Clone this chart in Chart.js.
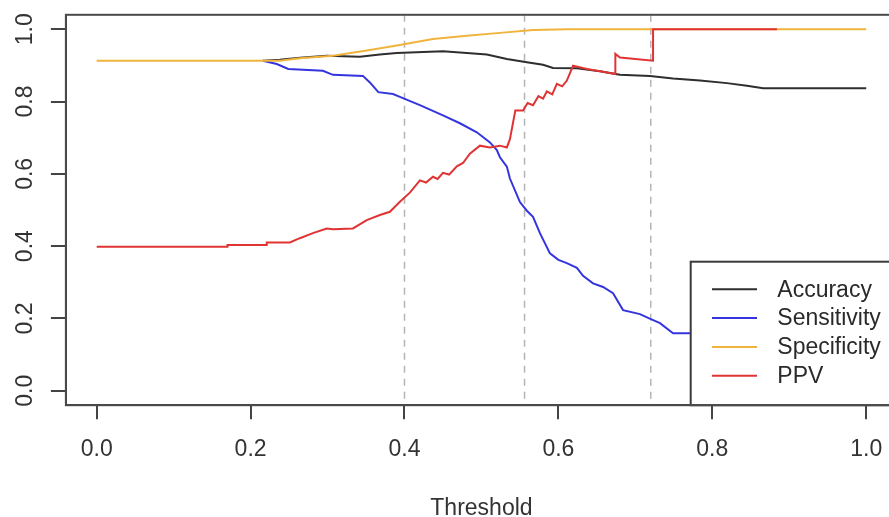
<!DOCTYPE html>
<html><head><meta charset="utf-8">
<script src="https://cdn.jsdelivr.net/npm/chart.js@4.4.1/dist/chart.umd.min.js"></script>
<style>
html,body{margin:0;padding:0;background:#fff;overflow:hidden;}
#wrap{width:889px;height:517px;overflow:hidden;position:relative;background:#fff;}
canvas{display:block;}
</style></head><body>
<div id="wrap"><canvas id="c" width="900" height="530" style="width:900px;height:530px"></canvas></div>
<script>
// ---- data ----
const xTicks = [0, 0.2, 0.4, 0.6, 0.8, 1.0];
const xTickLabels = ['0.0', '0.2', '0.4', '0.6', '0.8', '1.0'];
const yTicks = [0, 0.2, 0.4, 0.6, 0.8, 1.0];
const yTickLabels = ['0.0', '0.2', '0.4', '0.6', '0.8', '1.0'];
const xTitle = 'Threshold';
const cutoffs = [0.4, 0.556, 0.72];
const seriesNames = ['Accuracy', 'Sensitivity', 'Specificity', 'PPV'];
const seriesColors = ['#2e2e2e', '#3535e0', '#f0b43c', '#e03434'];

const accX = [0.216, 0.238, 0.264, 0.299, 0.342, 0.368, 0.390, 0.450, 0.481, 0.507, 0.533, 0.559, 0.580, 0.593, 0.624, 0.654, 0.680, 0.719, 0.749, 0.784, 0.819, 0.845, 0.866, 1.000];
const accY = [0.913, 0.916, 0.921, 0.927, 0.924, 0.930, 0.934, 0.939, 0.934, 0.930, 0.918, 0.909, 0.902, 0.893, 0.892, 0.884, 0.874, 0.871, 0.864, 0.858, 0.851, 0.844, 0.837, 0.837];

const sensX = [0.216, 0.234, 0.249, 0.294, 0.307, 0.346, 0.355, 0.366, 0.385, 0.394, 0.420, 0.450, 0.472, 0.494, 0.511, 0.520, 0.524, 0.533, 0.537, 0.550, 0.559, 0.567, 0.576, 0.589, 0.600, 0.611, 0.624, 0.632, 0.645, 0.658, 0.671, 0.684, 0.706, 0.718, 0.732, 0.749, 0.880];
const sensY = [0.913, 0.904, 0.890, 0.885, 0.874, 0.871, 0.853, 0.826, 0.821, 0.813, 0.790, 0.762, 0.740, 0.715, 0.687, 0.666, 0.646, 0.620, 0.587, 0.522, 0.498, 0.481, 0.436, 0.380, 0.362, 0.353, 0.340, 0.318, 0.297, 0.287, 0.270, 0.223, 0.212, 0.200, 0.187, 0.159, 0.159];

const specX = [0.000, 0.238, 0.264, 0.307, 0.351, 0.390, 0.437, 0.481, 0.524, 0.567, 0.611, 1.000];
const specY = [0.913, 0.913, 0.920, 0.927, 0.941, 0.955, 0.973, 0.982, 0.990, 0.998, 1.000, 1.000];

const ppvX = [0.000, 0.170, 0.170, 0.221, 0.221, 0.251, 0.264, 0.281, 0.299, 0.307, 0.333, 0.351, 0.368, 0.381, 0.394, 0.407, 0.420, 0.428, 0.437, 0.443, 0.450, 0.458, 0.468, 0.476, 0.485, 0.498, 0.511, 0.524, 0.533, 0.537, 0.544, 0.554, 0.560, 0.567, 0.574, 0.580, 0.585, 0.592, 0.598, 0.605, 0.611, 0.619, 0.637, 0.654, 0.674, 0.674, 0.680, 0.723, 0.723, 0.884];
const ppvY = [0.398, 0.398, 0.403, 0.403, 0.410, 0.410, 0.422, 0.436, 0.449, 0.447, 0.449, 0.472, 0.486, 0.495, 0.523, 0.548, 0.582, 0.576, 0.592, 0.586, 0.603, 0.598, 0.621, 0.630, 0.656, 0.678, 0.673, 0.678, 0.673, 0.696, 0.775, 0.775, 0.796, 0.790, 0.815, 0.808, 0.828, 0.820, 0.849, 0.842, 0.858, 0.899, 0.890, 0.884, 0.876, 0.932, 0.922, 0.913, 1.000, 1.000];

// ---- chart ----
const FONT = '"Liberation Sans", Arial, sans-serif';
const FS = 23;
const pts = (xs, ys) => xs.map((x, i) => ({x: x, y: ys[i]}));
const seriesData = [pts(accX, accY), pts(sensX, sensY), pts(specX, specY), pts(ppvX, ppvY)];

const cutoffPlugin = {
  id: 'cutoffs',
  beforeDatasetsDraw(chart) {
    const {ctx, chartArea, scales} = chart;
    ctx.save();
    ctx.strokeStyle = '#b4b4b4';
    ctx.lineWidth = 1.5;
    ctx.setLineDash([7, 6]);
    cutoffs.forEach(v => {
      const px = scales.x.getPixelForValue(v);
      ctx.beginPath();
      ctx.moveTo(px, chartArea.top);
      ctx.lineTo(px, chartArea.bottom);
      ctx.stroke();
    });
    ctx.restore();
  }
};

const boxLegendPlugin = {
  id: 'boxLegend',
  afterDatasetsDraw(chart) {
    const {ctx, chartArea} = chart;
    const left = chartArea.right - 206.3;
    const top = chartArea.bottom - 143.5;
    ctx.save();
    ctx.fillStyle = '#fff';
    ctx.fillRect(left, top, chartArea.right - left, chartArea.bottom - top);
    ctx.strokeStyle = '#3a3a3a';
    ctx.lineWidth = 2;
    ctx.strokeRect(left, top, chartArea.right - left, chartArea.bottom - top);
    ctx.font = FS + 'px ' + FONT;
    ctx.textBaseline = 'middle';
    ctx.textAlign = 'left';
    chart.data.datasets.forEach((ds, i) => {
      const y = top + 27.6 + i * 28.8;
      ctx.strokeStyle = ds.borderColor;
      ctx.lineWidth = 2;
      ctx.beginPath();
      ctx.moveTo(left + 21.3, y);
      ctx.lineTo(left + 66.3, y);
      ctx.stroke();
      ctx.fillStyle = '#2a2a2a';
      ctx.fillText(ds.label, left + 86.6, y + 1);
    });
    // plot box
    ctx.strokeStyle = '#4a4a4a';
    ctx.lineWidth = 2;
    ctx.strokeRect(chartArea.left, chartArea.top, chartArea.right - chartArea.left, chartArea.bottom - chartArea.top);
    // rotated y tick labels
    const ys = chart.scales.y;
    ctx.fillStyle = '#333';
    ctx.textAlign = 'center';
    ctx.textBaseline = 'middle';
    yTicks.forEach((v, i) => {
      const py = ys.getPixelForValue(v);
      ctx.save();
      ctx.translate(26, py);
      ctx.rotate(-Math.PI / 2);
      ctx.fillText(yTickLabels[i], 0, 0);
      ctx.restore();
    });
    ctx.restore();
  }
};

new Chart(document.getElementById('c'), {
  type: 'line',
  data: {
    datasets: seriesNames.map((name, i) => ({
      label: name,
      data: seriesData[i],
      borderColor: seriesColors[i],
      backgroundColor: seriesColors[i],
      borderWidth: 2,
      pointRadius: 0,
      tension: 0,
      fill: false,
      order: 4 - i
    }))
  },
  options: {
    responsive: false,
    animation: false,
    devicePixelRatio: 1,
    layout: {padding: {top: 14.8, right: 3, left: 0, bottom: 0}},
    plugins: {legend: {display: false}, tooltip: {enabled: false}},
    scales: {
      x: {
        type: 'linear',
        min: -0.04,
        max: 1.04,
        afterBuildTicks: s => { s.ticks = xTicks.map(v => ({value: v})); },
        afterFit: s => { s.height = 124.8; },
        ticks: {
          autoSkip: false, maxRotation: 0, padding: 17, color: '#333',
          font: {family: FONT, size: FS},
          callback: (v, i) => xTickLabels[i]
        },
        grid: {drawOnChartArea: false, drawTicks: true, tickLength: 14, color: '#444', lineWidth: 2},
        border: {display: true, color: '#444', width: 2},
        title: {display: true, text: xTitle, color: '#333', font: {family: FONT, size: FS}, padding: {top: 0, bottom: 8}}
      },
      y: {
        type: 'linear',
        min: -0.04,
        max: 1.04,
        afterBuildTicks: s => { s.ticks = yTicks.map(v => ({value: v})); },
        afterFit: s => { s.width = 65.9; },
        ticks: {display: false},
        grid: {drawOnChartArea: false, drawTicks: true, tickLength: 15, color: '#444', lineWidth: 2},
        border: {display: true, color: '#444', width: 2}
      }
    }
  },
  plugins: [cutoffPlugin, boxLegendPlugin]
});
</script>
</body></html>
